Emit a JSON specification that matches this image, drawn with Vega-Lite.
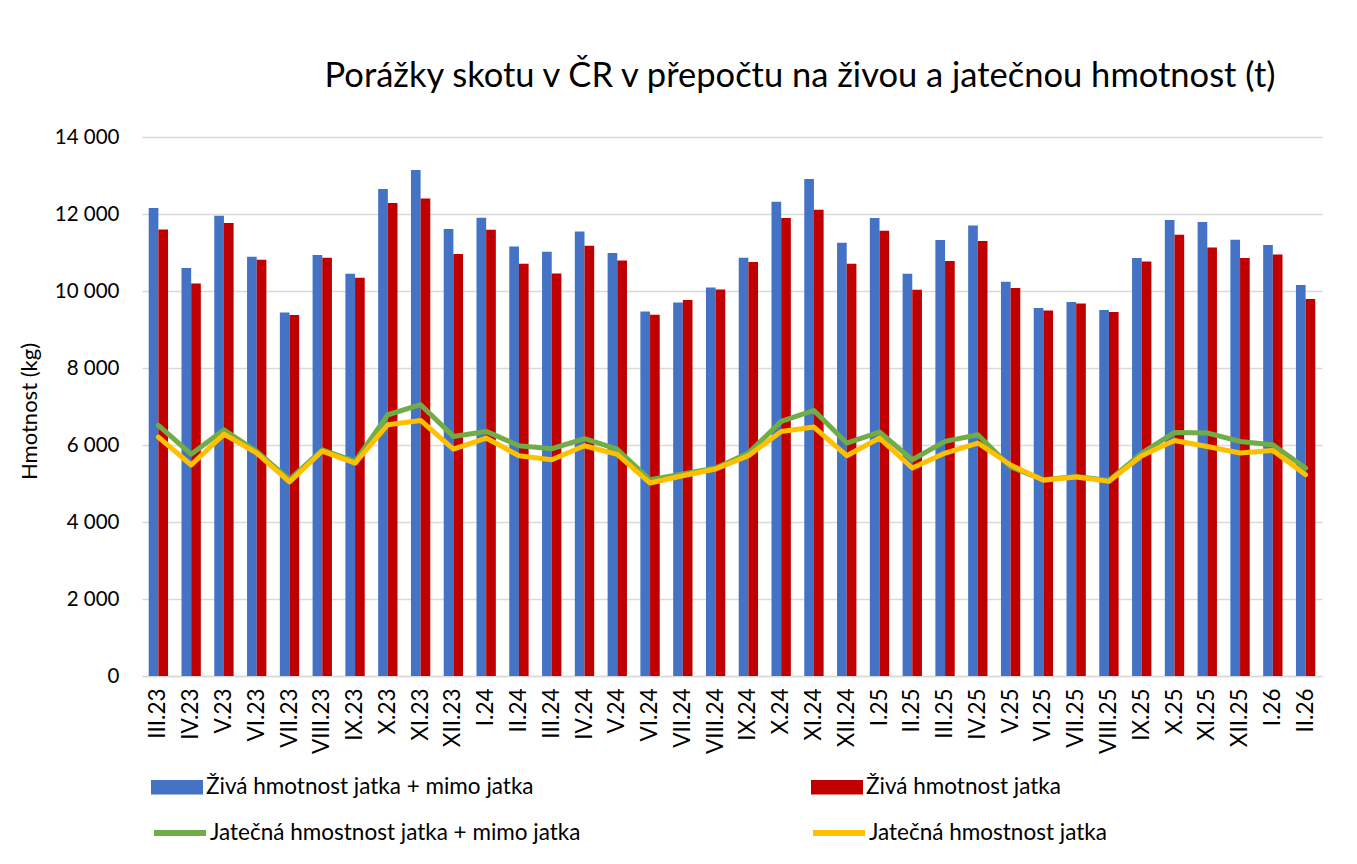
{
  "$schema": "https://vega.github.io/schema/vega-lite/v6.json",
  "autosize": {"type": "none"},
  "width": 1180,
  "height": 539,
  "padding": {"left": 142, "top": 137, "right": 35, "bottom": 188},
  "background": "white",
  "config": {
    "font": "Lato",
    "view": {"stroke": null},
    "axis": {"labelFont": "Lato", "titleFont": "Lato", "labelColor": "#000000", "titleColor": "#000000"}
  },
  "title": {
    "text": "Porážky skotu v ČR v přepočtu na živou a jatečnou hmotnost (t)",
    "font": "Lato",
    "fontSize": 34.5,
    "fontWeight": "normal",
    "color": "#000000",
    "anchor": "middle",
    "dx": 68,
    "offset": 33
  },
  "datasets": {
    "bars": [
      {"m":"III.23","s":"Živá hmotnost jatka + mimo jatka","v":12155},{"m":"III.23","s":"Živá hmotnost jatka","v":11598},
      {"m":"IV.23","s":"Živá hmotnost jatka + mimo jatka","v":10596},{"m":"IV.23","s":"Živá hmotnost jatka","v":10196},
      {"m":"V.23","s":"Živá hmotnost jatka + mimo jatka","v":11954},{"m":"V.23","s":"Živá hmotnost jatka","v":11765},
      {"m":"VI.23","s":"Živá hmotnost jatka + mimo jatka","v":10889},{"m":"VI.23","s":"Živá hmotnost jatka","v":10811},
      {"m":"VII.23","s":"Živá hmotnost jatka + mimo jatka","v":9443},{"m":"VII.23","s":"Živá hmotnost jatka","v":9375},
      {"m":"VIII.23","s":"Živá hmotnost jatka + mimo jatka","v":10933},{"m":"VIII.23","s":"Živá hmotnost jatka","v":10864},
      {"m":"IX.23","s":"Živá hmotnost jatka + mimo jatka","v":10448},{"m":"IX.23","s":"Živá hmotnost jatka","v":10344},
      {"m":"X.23","s":"Živá hmotnost jatka + mimo jatka","v":12647},{"m":"X.23","s":"Živá hmotnost jatka","v":12284},
      {"m":"XI.23","s":"Živá hmotnost jatka + mimo jatka","v":13141},{"m":"XI.23","s":"Živá hmotnost jatka","v":12403},
      {"m":"XII.23","s":"Živá hmotnost jatka + mimo jatka","v":11608},{"m":"XII.23","s":"Živá hmotnost jatka","v":10959},
      {"m":"I.24","s":"Živá hmotnost jatka + mimo jatka","v":11902},{"m":"I.24","s":"Živá hmotnost jatka","v":11591},
      {"m":"II.24","s":"Živá hmotnost jatka + mimo jatka","v":11157},{"m":"II.24","s":"Živá hmotnost jatka","v":10707},
      {"m":"III.24","s":"Živá hmotnost jatka + mimo jatka","v":11019},{"m":"III.24","s":"Živá hmotnost jatka","v":10456},
      {"m":"IV.24","s":"Živá hmotnost jatka + mimo jatka","v":11547},{"m":"IV.24","s":"Živá hmotnost jatka","v":11175},
      {"m":"V.24","s":"Živá hmotnost jatka + mimo jatka","v":10985},{"m":"V.24","s":"Živá hmotnost jatka","v":10794},
      {"m":"VI.24","s":"Živá hmotnost jatka + mimo jatka","v":9469},{"m":"VI.24","s":"Živá hmotnost jatka","v":9383},
      {"m":"VII.24","s":"Živá hmotnost jatka + mimo jatka","v":9703},{"m":"VII.24","s":"Živá hmotnost jatka","v":9765},
      {"m":"VIII.24","s":"Živá hmotnost jatka + mimo jatka","v":10093},{"m":"VIII.24","s":"Živá hmotnost jatka","v":10041},
      {"m":"IX.24","s":"Živá hmotnost jatka + mimo jatka","v":10864},{"m":"IX.24","s":"Živá hmotnost jatka","v":10751},
      {"m":"X.24","s":"Živá hmotnost jatka + mimo jatka","v":12318},{"m":"X.24","s":"Živá hmotnost jatka","v":11894},
      {"m":"XI.24","s":"Živá hmotnost jatka + mimo jatka","v":12907},{"m":"XI.24","s":"Živá hmotnost jatka","v":12110},
      {"m":"XII.24","s":"Živá hmotnost jatka + mimo jatka","v":11253},{"m":"XII.24","s":"Živá hmotnost jatka","v":10707},
      {"m":"I.25","s":"Živá hmotnost jatka + mimo jatka","v":11894},{"m":"I.25","s":"Živá hmotnost jatka","v":11565},
      {"m":"II.25","s":"Živá hmotnost jatka + mimo jatka","v":10448},{"m":"II.25","s":"Živá hmotnost jatka","v":10032},
      {"m":"III.25","s":"Živá hmotnost jatka + mimo jatka","v":11323},{"m":"III.25","s":"Živá hmotnost jatka","v":10777},
      {"m":"IV.25","s":"Živá hmotnost jatka + mimo jatka","v":11703},{"m":"IV.25","s":"Živá hmotnost jatka","v":11297},
      {"m":"V.25","s":"Živá hmotnost jatka + mimo jatka","v":10240},{"m":"V.25","s":"Živá hmotnost jatka","v":10076},
      {"m":"VI.25","s":"Živá hmotnost jatka + mimo jatka","v":9557},{"m":"VI.25","s":"Živá hmotnost jatka","v":9495},
      {"m":"VII.25","s":"Živá hmotnost jatka + mimo jatka","v":9713},{"m":"VII.25","s":"Živá hmotnost jatka","v":9677},
      {"m":"VIII.25","s":"Živá hmotnost jatka + mimo jatka","v":9505},{"m":"VIII.25","s":"Živá hmotnost jatka","v":9453},
      {"m":"IX.25","s":"Živá hmotnost jatka + mimo jatka","v":10856},{"m":"IX.25","s":"Živá hmotnost jatka","v":10768},
      {"m":"X.25","s":"Živá hmotnost jatka + mimo jatka","v":11842},{"m":"X.25","s":"Živá hmotnost jatka","v":11461},
      {"m":"XI.25","s":"Živá hmotnost jatka + mimo jatka","v":11790},{"m":"XI.25","s":"Živá hmotnost jatka","v":11132},
      {"m":"XII.25","s":"Živá hmotnost jatka + mimo jatka","v":11331},{"m":"XII.25","s":"Živá hmotnost jatka","v":10856},
      {"m":"I.26","s":"Živá hmotnost jatka + mimo jatka","v":11193},{"m":"I.26","s":"Živá hmotnost jatka","v":10950},
      {"m":"II.26","s":"Živá hmotnost jatka + mimo jatka","v":10154},{"m":"II.26","s":"Živá hmotnost jatka","v":9791}
    ],
    "lines": [
      {"m":"III.23","s":"Jatečná hmostnost jatka + mimo jatka","v":6508},
      {"m":"IV.23","s":"Jatečná hmostnost jatka + mimo jatka","v":5760},
      {"m":"V.23","s":"Jatečná hmostnost jatka + mimo jatka","v":6397},
      {"m":"VI.23","s":"Jatečná hmostnost jatka + mimo jatka","v":5833},
      {"m":"VII.23","s":"Jatečná hmostnost jatka + mimo jatka","v":5100},
      {"m":"VIII.23","s":"Jatečná hmostnost jatka + mimo jatka","v":5877},
      {"m":"IX.23","s":"Jatečná hmostnost jatka + mimo jatka","v":5573},
      {"m":"X.23","s":"Jatečná hmostnost jatka + mimo jatka","v":6786},
      {"m":"XI.23","s":"Jatečná hmostnost jatka + mimo jatka","v":7046},
      {"m":"XII.23","s":"Jatečná hmostnost jatka + mimo jatka","v":6223},
      {"m":"I.24","s":"Jatečná hmostnost jatka + mimo jatka","v":6353},
      {"m":"II.24","s":"Jatečná hmostnost jatka + mimo jatka","v":5981},
      {"m":"III.24","s":"Jatečná hmostnost jatka + mimo jatka","v":5903},
      {"m":"IV.24","s":"Jatečná hmostnost jatka + mimo jatka","v":6163},
      {"m":"V.24","s":"Jatečná hmostnost jatka + mimo jatka","v":5890},
      {"m":"VI.24","s":"Jatečná hmostnost jatka + mimo jatka","v":5098},
      {"m":"VII.24","s":"Jatečná hmostnost jatka + mimo jatka","v":5246},
      {"m":"VIII.24","s":"Jatečná hmostnost jatka + mimo jatka","v":5402},
      {"m":"IX.24","s":"Jatečná hmostnost jatka + mimo jatka","v":5791},
      {"m":"X.24","s":"Jatečná hmostnost jatka + mimo jatka","v":6613},
      {"m":"XI.24","s":"Jatečná hmostnost jatka + mimo jatka","v":6898},
      {"m":"XII.24","s":"Jatečná hmostnost jatka + mimo jatka","v":6051},
      {"m":"I.25","s":"Jatečná hmostnost jatka + mimo jatka","v":6337},
      {"m":"II.25","s":"Jatečná hmostnost jatka + mimo jatka","v":5617},
      {"m":"III.25","s":"Jatečná hmostnost jatka + mimo jatka","v":6093},
      {"m":"IV.25","s":"Jatečná hmostnost jatka + mimo jatka","v":6267},
      {"m":"V.25","s":"Jatečná hmostnost jatka + mimo jatka","v":5430},
      {"m":"VI.25","s":"Jatečná hmostnost jatka + mimo jatka","v":5098},
      {"m":"VII.25","s":"Jatečná hmostnost jatka + mimo jatka","v":5185},
      {"m":"VIII.25","s":"Jatečná hmostnost jatka + mimo jatka","v":5081},
      {"m":"IX.25","s":"Jatečná hmostnost jatka + mimo jatka","v":5791},
      {"m":"X.25","s":"Jatečná hmostnost jatka + mimo jatka","v":6327},
      {"m":"XI.25","s":"Jatečná hmostnost jatka + mimo jatka","v":6311},
      {"m":"XII.25","s":"Jatečná hmostnost jatka + mimo jatka","v":6093},
      {"m":"I.26","s":"Jatečná hmostnost jatka + mimo jatka","v":6007},
      {"m":"II.26","s":"Jatečná hmostnost jatka + mimo jatka","v":5402},
      {"m":"III.23","s":"Jatečná hmostnost jatka","v":6207},
      {"m":"IV.23","s":"Jatečná hmostnost jatka","v":5480},
      {"m":"V.23","s":"Jatečná hmostnost jatka","v":6284},
      {"m":"VI.23","s":"Jatečná hmostnost jatka","v":5791},
      {"m":"VII.23","s":"Jatečná hmostnost jatka","v":5040},
      {"m":"VIII.23","s":"Jatečná hmostnost jatka","v":5843},
      {"m":"IX.23","s":"Jatečná hmostnost jatka","v":5531},
      {"m":"X.23","s":"Jatečná hmostnost jatka","v":6526},
      {"m":"XI.23","s":"Jatečná hmostnost jatka","v":6638},
      {"m":"XII.23","s":"Jatečná hmostnost jatka","v":5895},
      {"m":"I.24","s":"Jatečná hmostnost jatka","v":6181},
      {"m":"II.24","s":"Jatečná hmostnost jatka","v":5721},
      {"m":"III.24","s":"Jatečná hmostnost jatka","v":5617},
      {"m":"IV.24","s":"Jatečná hmostnost jatka","v":5981},
      {"m":"V.24","s":"Jatečná hmostnost jatka","v":5755},
      {"m":"VI.24","s":"Jatečná hmostnost jatka","v":5012},
      {"m":"VII.24","s":"Jatečná hmostnost jatka","v":5202},
      {"m":"VIII.24","s":"Jatečná hmostnost jatka","v":5376},
      {"m":"IX.24","s":"Jatečná hmostnost jatka","v":5721},
      {"m":"X.24","s":"Jatečná hmostnost jatka","v":6353},
      {"m":"XI.24","s":"Jatečná hmostnost jatka","v":6467},
      {"m":"XII.24","s":"Jatečná hmostnost jatka","v":5721},
      {"m":"I.25","s":"Jatečná hmostnost jatka","v":6181},
      {"m":"II.25","s":"Jatečná hmostnost jatka","v":5402},
      {"m":"III.25","s":"Jatečná hmostnost jatka","v":5791},
      {"m":"IV.25","s":"Jatečná hmostnost jatka","v":6051},
      {"m":"V.25","s":"Jatečná hmostnost jatka","v":5480},
      {"m":"VI.25","s":"Jatečná hmostnost jatka","v":5085},
      {"m":"VII.25","s":"Jatečná hmostnost jatka","v":5170},
      {"m":"VIII.25","s":"Jatečná hmostnost jatka","v":5055},
      {"m":"IX.25","s":"Jatečná hmostnost jatka","v":5721},
      {"m":"X.25","s":"Jatečná hmostnost jatka","v":6119},
      {"m":"XI.25","s":"Jatečná hmostnost jatka","v":5963},
      {"m":"XII.25","s":"Jatečná hmostnost jatka","v":5791},
      {"m":"I.26","s":"Jatečná hmostnost jatka","v":5860},
      {"m":"II.26","s":"Jatečná hmostnost jatka","v":5228}
    ]
  },
  "encoding": {
    "x": {
      "field": "m",
      "type": "nominal",
      "scale": {
        "domain": ["III.23","IV.23","V.23","VI.23","VII.23","VIII.23","IX.23","X.23","XI.23","XII.23","I.24","II.24","III.24","IV.24","V.24","VI.24","VII.24","VIII.24","IX.24","X.24","XI.24","XII.24","I.25","II.25","III.25","IV.25","V.25","VI.25","VII.25","VIII.25","IX.25","X.25","XI.25","XII.25","I.26","II.26"],
        "paddingInner": 0.41,
        "paddingOuter": 0.205
      },
      "axis": {
        "title": null,
        "labelAngle": -90,
        "labelFontSize": 22.5,
        "labelPadding": 12,
        "ticks": false,
        "tickSize": 0,
        "domainColor": "#d9d9d9",
        "domainWidth": 1.3,
        "grid": false
      }
    },
    "y": {
      "field": "v",
      "type": "quantitative",
      "scale": {"domain": [0, 14000], "nice": false},
      "axis": {
        "title": "Hmotnost (kg)",
        "titleFontSize": 22,
        "titleFontWeight": "normal",
        "titleX": -113,
        "titleY": 274,
        "titleAlign": "center",
        "titleBaseline": "middle",
        "titleAngle": -90,
        "values": [0, 2000, 4000, 6000, 8000, 10000, 12000, 14000],
        "labelExpr": "replace(format(datum.value, ','), ',', ' ')",
        "labelFontSize": 20.5,
        "labelPadding": 23,
        "ticks": false,
        "tickSize": 0,
        "domain": false,
        "grid": true,
        "gridColor": "#d9d9d9",
        "gridWidth": 1.3
      }
    }
  },
  "layer": [
    {
      "data": {"name": "bars"},
      "mark": {"type": "bar"},
      "encoding": {
        "xOffset": {
          "field": "s",
          "type": "nominal",
          "scale": {"domain": ["Živá hmotnost jatka + mimo jatka", "Živá hmotnost jatka"], "paddingInner": 0, "paddingOuter": 0}
        },
        "color": {
          "field": "s",
          "type": "nominal",
          "scale": {"domain": ["Živá hmotnost jatka + mimo jatka", "Živá hmotnost jatka"], "range": ["#4472C4", "#C00000"]},
          "legend": {
            "title": null,
            "orient": "none",
            "legendX": 9,
            "legendY": 624,
            "direction": "horizontal",
            "columns": 2,
            "columnPadding": 277,
            "symbolType": "M-1,-0.28H1V0.28H-1Z",
            "symbolSize": 2704,
            "symbolStrokeWidth": 0,
            "labelFont": "Lato",
            "labelFontSize": 22.5,
            "labelColor": "#000000",
            "labelLimit": 600,
            "labelOffset": 3
          }
        }
      }
    },
    {
      "data": {"name": "lines"},
      "mark": {"type": "line", "strokeWidth": 5, "strokeJoin": "round", "strokeCap": "round"},
      "encoding": {
        "stroke": {
          "field": "s",
          "type": "nominal",
          "scale": {"domain": ["Jatečná hmostnost jatka + mimo jatka", "Jatečná hmostnost jatka"], "range": ["#70AD47", "#FFC000"]},
          "legend": {
            "title": null,
            "orient": "none",
            "legendX": 9,
            "legendY": 667,
            "direction": "horizontal",
            "columns": 2,
            "columnPadding": 220,
            "symbolType": "stroke",
            "symbolSize": 2704,
            "symbolStrokeWidth": 6,
            "labelFont": "Lato",
            "labelFontSize": 22.5,
            "labelColor": "#000000",
            "labelLimit": 600,
            "labelOffset": 1
          }
        }
      }
    }
  ]
}
